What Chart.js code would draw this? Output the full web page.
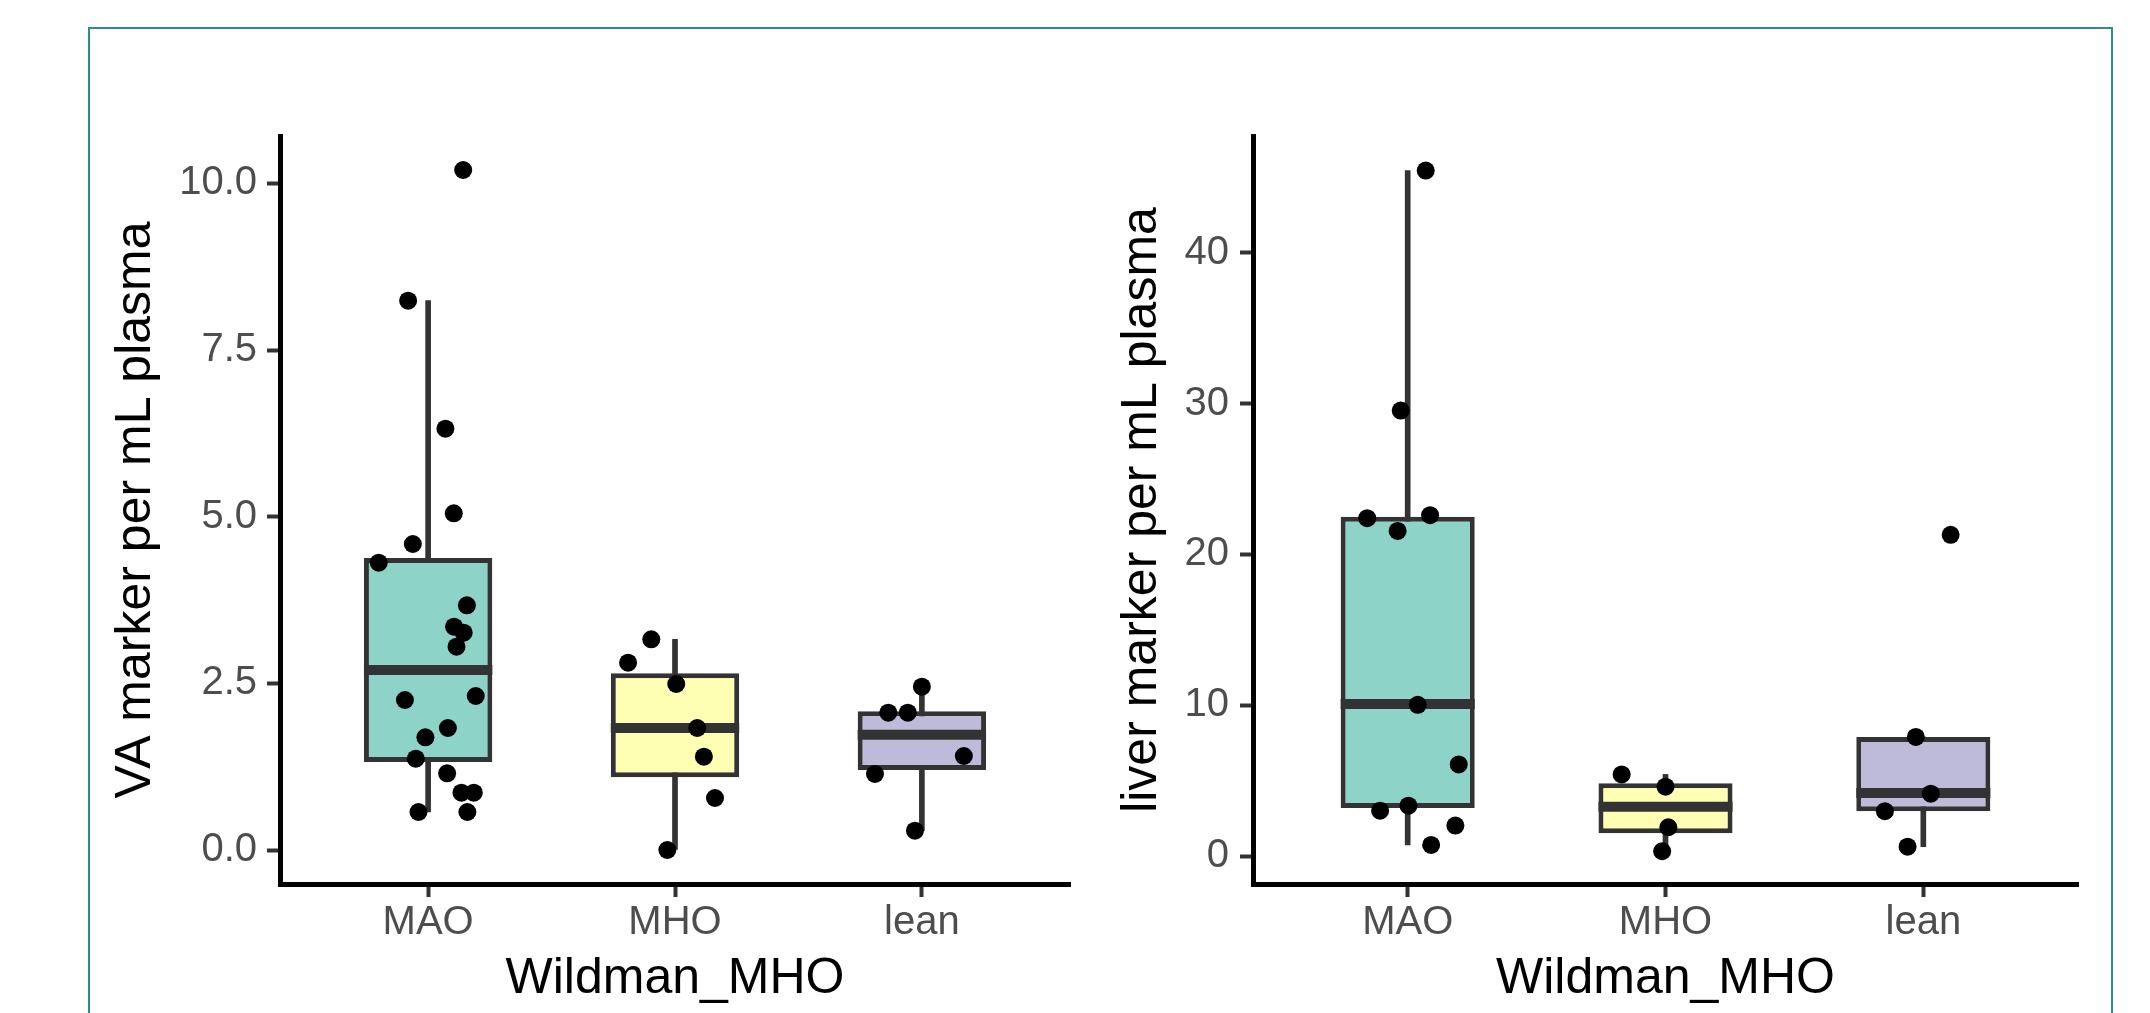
<!DOCTYPE html>
<html lang="en">
<head>
    <meta charset="UTF-8">
    <script src="https://cdn.jsdelivr.net/npm/chart.js"></script>
    <style>
        body, html {
            margin: 0;
            padding: 0;
            width: 2150px;
            height: 1013px;
            overflow: hidden;
            background: #ffffff;
        }
        #frame {
            position: absolute;
            left: 88px;
            top: 27px;
            width: 2025px;
            height: 1100px;
            border: 2px solid #2e8b8e;
            box-sizing: border-box;
        }
        canvas {
            position: absolute;
            top: 0;
        }
        #vaChart { left: 0; }
        #liverChart { left: 1100px; }
    </style>
</head>
<body>
    <div id="frame"></div>
    <canvas id="vaChart" width="1100" height="1013"></canvas>
    <canvas id="liverChart" width="1050" height="1013"></canvas>

    <script>
        const groups = ['MAO', 'MHO', 'lean'];

        // VA marker panel: points and their horizontal jitter (category units)
        const vaMAO = [10.2, 8.24, 6.32, 5.05, 4.59, 4.31, 3.67, 3.35, 3.26, 3.05, 2.31, 2.25, 1.83, 1.69, 1.37, 1.15, 0.86, 0.86, 0.57, 0.57];
        const vaMAOJitter = [0.142, -0.081, 0.070, 0.104, -0.062, -0.200, 0.157, 0.105, 0.144, 0.115, 0.193, -0.094, 0.080, -0.011, -0.050, 0.077, 0.135, 0.185, -0.039, 0.159];
        const vaMHO = [3.16, 2.81, 2.49, 1.83, 1.40, 0.78, 0.0];
        const vaMHOJitter = [-0.096, -0.190, 0.005, 0.090, 0.117, 0.162, -0.031];
        const vaLean = [2.45, 2.06, 2.06, 1.41, 1.14, 0.29];
        const vaLeanJitter = [0.0, -0.136, -0.057, 0.170, -0.190, -0.028];
        const vaQ1 = [1.32, 1.09, 1.20];
        const vaMedian = [2.70, 1.83, 1.73];
        const vaQ3 = [4.38, 2.65, 2.08];
        const vaWhiskerLow = [0.57, 0.0, 0.29];
        const vaWhiskerHigh = [8.24, 3.16, 2.45];
        const vaTicks = [0, 2.5, 5, 7.5, 10];

        // liver marker panel
        const lvMAO = [45.43, 29.53, 22.4, 22.6, 21.56, 10.04, 6.09, 3.36, 3.03, 2.04, 0.76];
        const lvMAOJitter = [0.070, -0.027, -0.157, 0.087, -0.039, 0.039, 0.198, 0.003, -0.107, 0.185, 0.091];
        const lvMHO = [5.43, 4.62, 1.93, 0.34];
        const lvMHOJitter = [-0.170, 0.0, 0.011, -0.013];
        const lvLean = [21.3, 7.91, 4.15, 2.99, 0.64];
        const lvLeanJitter = [0.106, -0.029, 0.029, -0.149, -0.061];
        const lvQ1 = [3.2, 1.53, 2.99];
        const lvMedian = [10.1, 3.28, 4.2];
        const lvQ3 = [22.5, 4.85, 7.91];
        const lvWhiskerLow = [0.76, 0.34, 0.64];
        const lvWhiskerHigh = [45.43, 5.43, 7.91];
        const lvTicks = [0, 10, 20, 30, 40];

        const boxFill = ['#8dd3c7', '#ffffb3', '#bebada'];
        const FONT = "'Liberation Sans', Arial, sans-serif";
        const BOX_WIDTH = 0.52; // fraction of category spacing

        function halfBox(chart) {
            const xs = chart.scales.x;
            return xs.getPixelForValue(1 + BOX_WIDTH / 2) - xs.getPixelForValue(1);
        }

        function buildPanel(canvasId, p) {
            const points = [];
            p.values.forEach((vals, g) => {
                vals.forEach((v, i) => points.push({ x: g + 1 + p.jitter[g][i], y: v }));
            });

            new Chart(document.getElementById(canvasId), {
                type: 'scatter',
                data: {
                    datasets: [
                        {
                            type: 'scatter',
                            data: points,
                            pointRadius: 9,
                            pointBackgroundColor: '#000000',
                            pointBorderWidth: 0
                        },
                        {
                            type: 'scatter',
                            data: groups.map((g, i) => ({ x: i + 1, y: p.median[i] })),
                            pointStyle: 'line',
                            pointRadius: ctx => halfBox(ctx.chart),
                            pointBorderColor: '#333333',
                            pointBorderWidth: 10
                        },
                        {
                            type: 'bar',
                            data: groups.map((g, i) => ({ x: i + 1, y: [p.q1[i], p.q3[i]] })),
                            backgroundColor: boxFill,
                            borderColor: '#333333',
                            borderWidth: 5,
                            borderSkipped: false,
                            grouped: false,
                            categoryPercentage: 1,
                            barPercentage: BOX_WIDTH
                        },
                        {
                            type: 'bar',
                            data: groups.map((g, i) => ({ x: i + 1, y: [p.low[i], p.high[i]] })),
                            backgroundColor: '#333333',
                            borderWidth: 0,
                            grouped: false,
                            barThickness: 5
                        }
                    ]
                },
                options: {
                    responsive: false,
                    animation: false,
                    events: [],
                    layout: {
                        autoPadding: false,
                        padding: { left: 0, top: 136, right: p.padRight, bottom: 0 }
                    },
                    plugins: {
                        legend: { display: false },
                        tooltip: { enabled: false }
                    },
                    scales: {
                        x: {
                            type: 'linear',
                            min: 0.4,
                            max: 3.6,
                            offset: false,
                            bounds: 'data',
                            afterBuildTicks: s => { s.ticks = groups.map((g, i) => ({ value: i + 1 })); },
                            afterFit: s => { s.height = 129; s.paddingLeft = 0; s.paddingRight = 0; },
                            ticks: {
                                callback: v => groups[Math.round(v) - 1],
                                autoSkip: false,
                                maxRotation: 0,
                                padding: 2,
                                color: '#4d4d4d',
                                font: { family: FONT, size: 40 }
                            },
                            grid: {
                                display: true,
                                offset: false,
                                drawOnChartArea: false,
                                drawTicks: true,
                                tickLength: 13,
                                tickWidth: 4,
                                tickColor: '#333333',
                                color: '#333333'
                            },
                            border: { display: true, color: '#000000', width: 5 },
                            title: {
                                display: true,
                                text: 'Wildman_MHO',
                                color: '#000000',
                                font: { family: FONT, size: 50, lineHeight: 1.2 },
                                padding: { top: 0, bottom: 4 }
                            }
                        },
                        y: {
                            type: 'linear',
                            min: p.yMin,
                            max: p.yMax,
                            bounds: 'data',
                            afterBuildTicks: s => { s.ticks = p.ticks.map(v => ({ value: v })); },
                            afterFit: s => { s.width = p.axisWidth; s.paddingTop = 0; s.paddingBottom = 0; },
                            ticks: {
                                callback: p.format,
                                padding: p.tickPad,
                                color: '#4d4d4d',
                                font: { family: FONT, size: 40 }
                            },
                            grid: {
                                display: true,
                                drawOnChartArea: false,
                                drawTicks: true,
                                tickLength: 13,
                                tickWidth: 4,
                                tickColor: '#333333',
                                color: '#333333'
                            },
                            border: { display: true, color: '#000000', width: 5 },
                            title: {
                                display: true,
                                text: p.title,
                                color: '#000000',
                                font: { family: FONT, size: 50, lineHeight: 1.2 },
                                padding: { top: p.titlePad, bottom: 0 }
                            }
                        }
                    }
                }
            });
        }

        buildPanel('vaChart', {
            values: [vaMAO, vaMHO, vaLean],
            jitter: [vaMAOJitter, vaMHOJitter, vaLeanJitter],
            q1: vaQ1, median: vaMedian, q3: vaQ3,
            low: vaWhiskerLow, high: vaWhiskerHigh,
            ticks: vaTicks,
            yMin: -0.51, yMax: 10.71,
            format: v => v.toFixed(1),
            title: 'VA marker per mL plasma',
            axisWidth: 280, padRight: 30, tickPad: 10, titlePad: 106
        });

        buildPanel('liverChart', {
            values: [lvMAO, lvMHO, lvLean],
            jitter: [lvMAOJitter, lvMHOJitter, lvLeanJitter],
            q1: lvQ1, median: lvMedian, q3: lvQ3,
            low: lvWhiskerLow, high: lvWhiskerHigh,
            ticks: lvTicks,
            yMin: -1.83, yMax: 47.72,
            format: v => String(v),
            title: 'liver marker per mL plasma',
            axisWidth: 153, padRight: 72, tickPad: 11, titlePad: 12
        });
    </script>
</body>
</html>
